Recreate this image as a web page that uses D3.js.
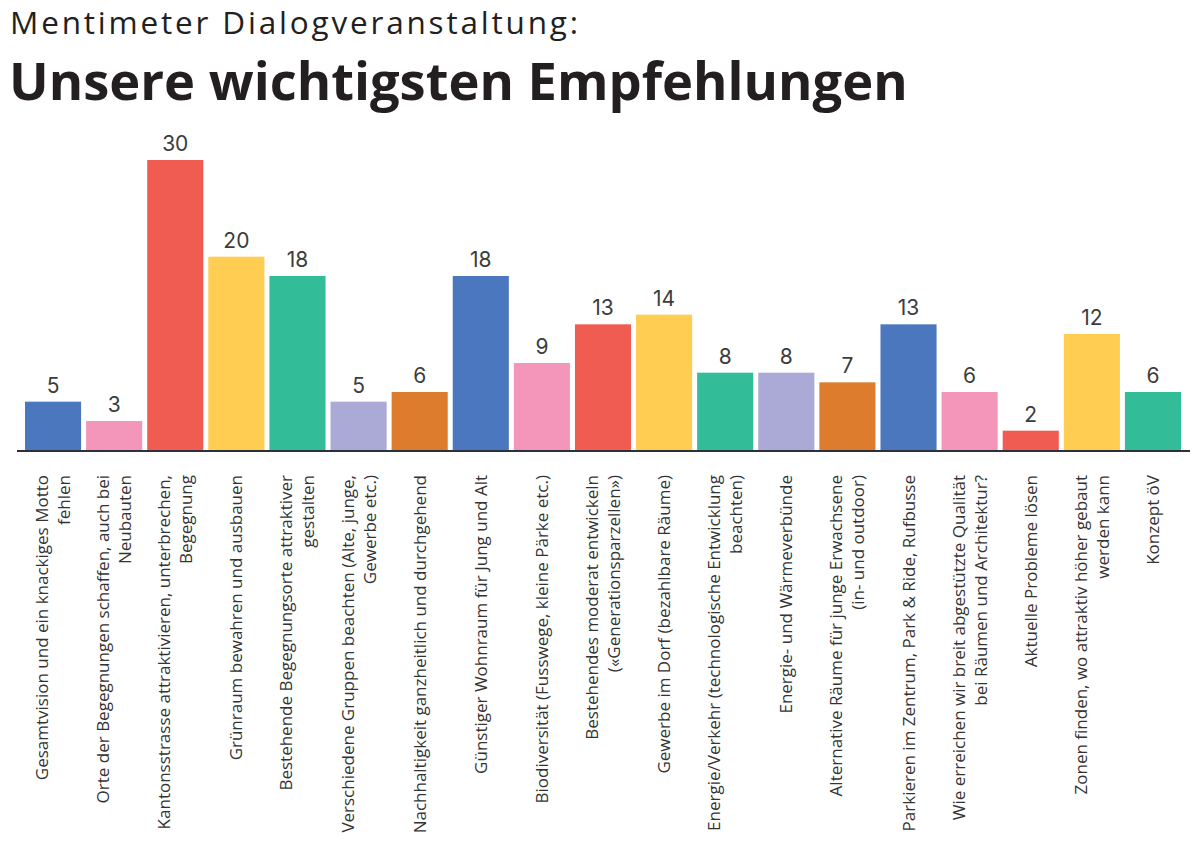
<!DOCTYPE html>
<html>
<head>
<meta charset="utf-8">
<script src="https://cdn.jsdelivr.net/npm/d3@7"></script>
<style>
  body { margin: 0; background: #fff; }
  svg { display: block; }
</style>
</head>
<body>
<svg id="chart" width="1200" height="854"></svg>
<script>
// Daten aus der Mentimeter-Umfrage
const categories = [
  "Gesamtvision und ein knackiges Motto\nfehlen",
  "Orte der Begegnungen schaffen, auch bei\nNeubauten",
  "Kantonsstrasse attraktivieren, unterbrechen,\nBegegnung",
  "Grünraum bewahren und ausbauen",
  "Bestehende Begegnungsorte attraktiver\ngestalten",
  "Verschiedene Gruppen beachten (Alte, junge,\nGewerbe etc.)",
  "Nachhaltigkeit ganzheitlich und durchgehend",
  "Günstiger Wohnraum für Jung und Alt",
  "Biodiversität (Fusswege, kleine Pärke etc.)",
  "Bestehendes moderat entwickeln\n(«Generationsparzellen»)",
  "Gewerbe im Dorf (bezahlbare Räume)",
  "Energie/Verkehr (technologische Entwicklung\nbeachten)",
  "Energie- und Wärmeverbünde",
  "Alternative Räume für junge Erwachsene\n(in- und outdoor)",
  "Parkieren im Zentrum, Park & Ride, Rufbusse",
  "Wie erreichen wir breit abgestützte Qualität\nbei Räumen und Architektur?",
  "Aktuelle Probleme lösen",
  "Zonen finden, wo attraktiv höher gebaut\nwerden kann",
  "Konzept öV"
];
const votes = [5, 3, 30, 20, 18, 5, 6, 18, 9, 13, 14, 8, 8, 7, 13, 6, 2, 12, 6];
const palette = ["#4a77be", "#f396b9", "#f05c51", "#fecd51", "#33bc98", "#abaad6", "#dc7c2c"];

const titleTop = "Mentimeter Dialogveranstaltung:";
const titleMain = "Unsere wichtigsten Empfehlungen";

const svg = d3.select("#chart");

// Titel, Schriftgrösse an die Breite im Original angepasst
function fitText(sel, targetWidth) {
  const w = sel.node().getComputedTextLength();
  const fs = parseFloat(sel.attr("font-size"));
  sel.attr("font-size", fs * targetWidth / w);
}

svg.append("text")
  .attr("x", 10).attr("y", 34)
  .attr("font-family", "Open Sans")
  .attr("font-size", 31.5)
  .attr("fill", "#231f20")
  .attr("textLength", 568)
  .attr("lengthAdjust", "spacing")
  .text(titleTop);

const t2 = svg.append("text")
  .attr("x", 9).attr("y", 100)
  .attr("font-family", "Open Sans")
  .attr("font-weight", 700)
  .attr("font-size", 56)
  .attr("fill", "#231f20")
  .text(titleMain);
fitText(t2, 899);

const data = categories.map((c, i) => ({ cat: c, value: votes[i], i: i }));

const x = d3.scaleBand()
  .domain(d3.range(categories.length))
  .range([25, 1181])
  .paddingInner(0.082)
  .paddingOuter(0);

const y = d3.scaleLinear()
  .domain([0, 30])
  .range([450, 160]);

const color = d3.scaleOrdinal()
  .domain(d3.range(categories.length))
  .range(palette);

svg.selectAll(".bar")
  .data(data)
  .enter()
  .append("rect")
  .attr("class", "bar")
  .attr("x", d => x(d.i))
  .attr("y", d => y(d.value))
  .attr("width", x.bandwidth())
  .attr("height", d => y(0) - y(d.value))
  .attr("fill", d => color(d.i));

svg.selectAll(".val")
  .data(data)
  .enter()
  .append("text")
  .attr("class", "val")
  .attr("x", d => x(d.i) + x.bandwidth() / 2)
  .attr("y", d => y(d.value) - 9)
  .attr("text-anchor", "middle")
  .attr("font-family", "Inter")
  .attr("font-size", 21)
  .attr("fill", "#3c3c3c")
  .text(d => d.value);

// Grundlinie
svg.append("line")
  .attr("x1", 17).attr("x2", 1190)
  .attr("y1", y(0) + 1).attr("y2", y(0) + 1)
  .attr("stroke", "#2b303a")
  .attr("stroke-width", 2.2);

// gedrehte Beschriftungen
const lineH = 22;
const labels = svg.selectAll(".lab")
  .data(data)
  .enter()
  .append("text")
  .attr("class", "lab")
  .attr("transform", d => `translate(${x(d.i) + x.bandwidth() / 2}, 475) rotate(-90)`)
  .attr("text-anchor", "end")
  .attr("font-family", "Open Sans")
  .attr("font-size", 17)
  .attr("fill", "#333");

labels.each(function (d) {
  const lines = d.cat.split("\n");
  const n = lines.length;
  d3.select(this).selectAll("tspan")
    .data(lines)
    .enter()
    .append("tspan")
    .attr("x", 0)
    .attr("y", (l, k) => (k - (n - 1) / 2) * lineH + 6)
    .text(l => l);
});
</script>
</body>
</html>
